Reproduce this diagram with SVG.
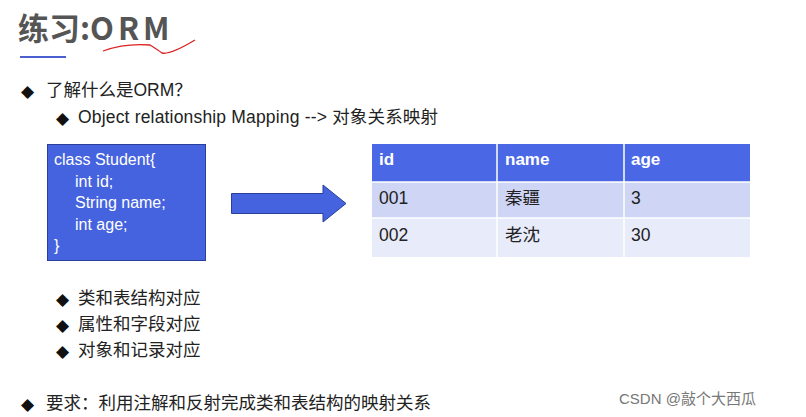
<svg xmlns="http://www.w3.org/2000/svg" width="806" height="417" viewBox="0 0 806 417">
<style>
.t{font-family:"Liberation Sans","Noto Sans CJK SC",sans-serif;font-size:17.5px;fill:#222}
.w{font-family:"Liberation Sans",sans-serif;font-size:16px;fill:#fff}
.h{font-family:"Liberation Sans",sans-serif;font-size:17px;font-weight:bold;fill:#fff}
.b{font-family:"DejaVu Sans",sans-serif;font-size:17px;fill:#111}
</style>
<rect width="806" height="417" fill="#fff"/>
<g id="title">
<text x="18" y="40" font-family="'Noto Sans CJK SC',sans-serif" font-size="31" font-weight="bold" fill="#555">练习:<tspan letter-spacing="4">ORM</tspan></text>
<path d="M103 51 Q125 43 150 45 Q158 50 162 53 Q170 55 195 40" fill="none" stroke="#d22" stroke-width="1.3"/>
<line x1="20" y1="57" x2="66" y2="57" stroke="#4a5fd0" stroke-width="2"/>
</g>
<g id="bullets">
<text class="b" x="21" y="97">◆</text><text class="t" x="46" y="96">了解什么是ORM？</text>
<text class="b" x="56" y="124">◆</text><text class="t" x="78" y="123" textLength="360">Object relationship Mapping --&gt; 对象关系映射</text>
<text class="b" x="56" y="305">◆</text><text class="t" x="78" y="304">类和表结构对应</text>
<text class="b" x="56" y="331">◆</text><text class="t" x="78" y="330">属性和字段对应</text>
<text class="b" x="56" y="357">◆</text><text class="t" x="78" y="356">对象和记录对应</text>
<text class="b" x="21" y="410">◆</text><text class="t" x="46" y="409">要求：利用注解和反射完成类和表结构的映射关系</text>
</g>
<g id="class">
<rect x="47.5" y="144.5" width="158" height="116" fill="#4563de" stroke="#2a3f9a"/>
<text class="w" x="54" y="165">class Student{</text>
<text class="w" x="75" y="187">int id;</text>
<text class="w" x="75" y="208">String name;</text>
<text class="w" x="75" y="230">int age;</text>
<text class="w" x="54" y="251">}</text>
</g>
<g id="connectors">
<path d="M231.5 193.5 H323 V185 L346 203.5 L323 222 V213.5 H231.5 Z" fill="#4563de" stroke="#2a3f9a"/>
</g>
<g id="table">
<rect x="372" y="144" width="378" height="38" fill="#4a68e6"/>
<rect x="372" y="182" width="378" height="36" fill="#ced5f5"/>
<rect x="372" y="218" width="378" height="39" fill="#e8ebfa"/>
<g stroke="#fff" stroke-width="1.5"><line x1="497" y1="144" x2="497" y2="257"/><line x1="624" y1="144" x2="624" y2="257"/><line x1="372" y1="182" x2="750" y2="182"/><line x1="372" y1="218" x2="750" y2="218"/></g>
<text class="h" x="379" y="165">id</text><text class="h" x="505" y="165">name</text><text class="h" x="631" y="165">age</text>
<text class="t" x="379" y="204">001</text><text class="t" x="505" y="204">秦疆</text><text class="t" x="631" y="204">3</text>
<text class="t" x="379" y="241">002</text><text class="t" x="505" y="241">老沈</text><text class="t" x="631" y="241">30</text>
</g>
<text x="619" y="404" font-family="'Liberation Sans','Noto Sans CJK SC',sans-serif" font-size="15" fill="#777">CSDN @敲个大西瓜</text>
</svg>
